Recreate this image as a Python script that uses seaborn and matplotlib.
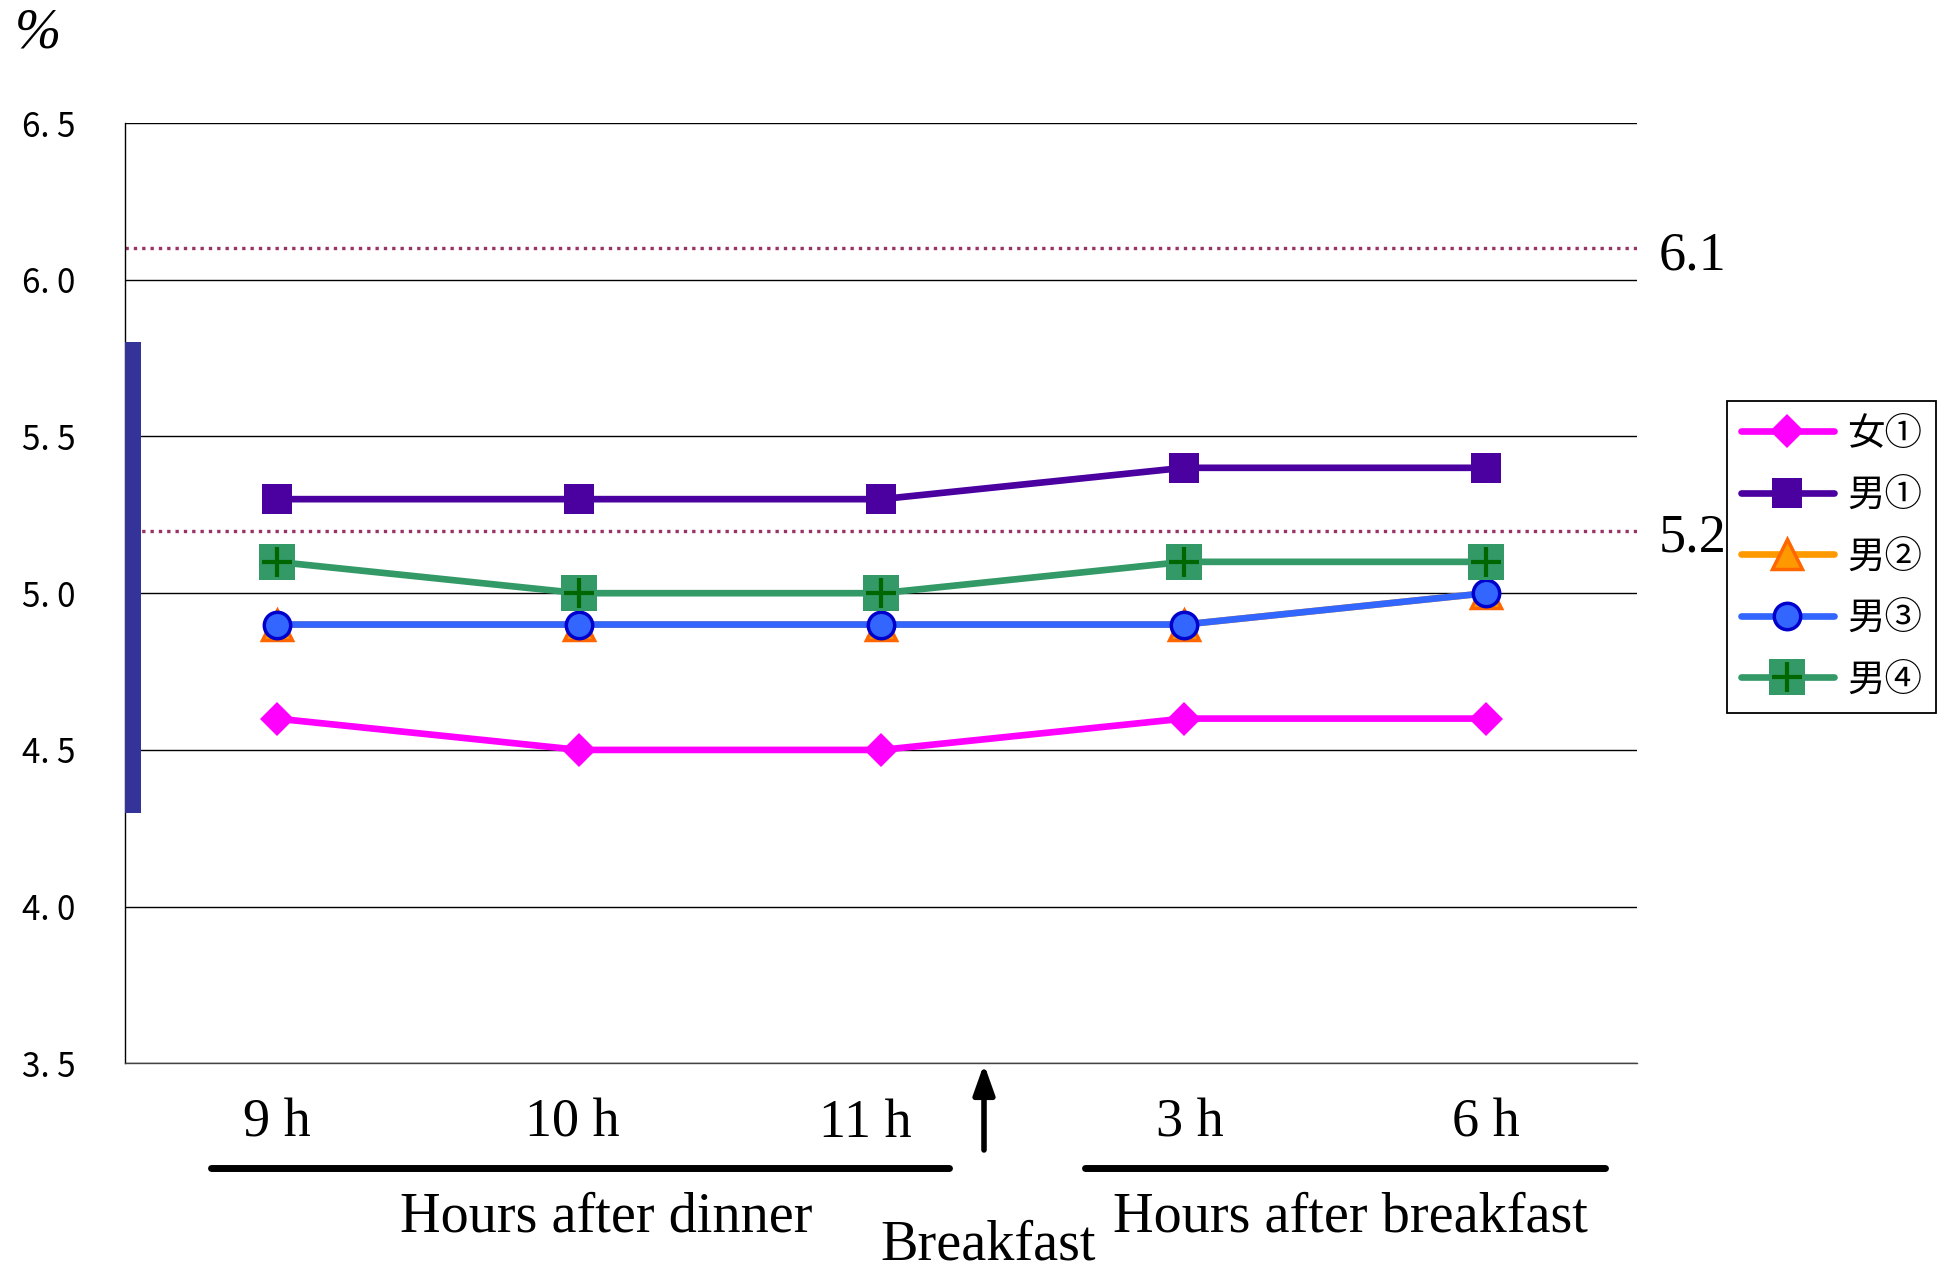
import numpy as np
import matplotlib
matplotlib.use("Agg")
import matplotlib.pyplot as plt
import matplotlib.transforms as mtransforms
from matplotlib.lines import Line2D
from matplotlib.patches import Rectangle
from matplotlib.legend_handler import HandlerTuple
import seaborn as sns

# Sampling times and HbA1c-type readings (%)
time_labels = ["9 h", "10 h", "11 h", "3 h", "6 h"]
series_names = ["女①", "男①", "男②", "男③", "男④"]
f1_values = [4.6, 4.5, 4.5, 4.6, 4.6]
m1_values = [5.3, 5.3, 5.3, 5.4, 5.4]
m2_values = [4.9, 4.9, 4.9, 4.9, 5.0]
m3_values = [4.9, 4.9, 4.9, 4.9, 5.0]
m4_values = [5.1, 5.0, 5.0, 5.1, 5.1]
reference_levels = [6.1, 5.2]
normal_range = [4.3, 5.8]
y_ticks = [3.5, 4.0, 4.5, 5.0, 5.5, 6.0, 6.5]

values = {
    "女①": f1_values,
    "男①": m1_values,
    "男②": m2_values,
    "男③": m3_values,
    "男④": m4_values,
}

styles = {
    "女①": dict(color="#FF00FF", marker="D", markersize=17,
               markerfacecolor="#FF00FF", markeredgecolor="#FF00FF", markeredgewidth=0),
    "男①": dict(color="#4B00A0", marker="s", markersize=22,
               markerfacecolor="#4B00A0", markeredgecolor="#4B00A0", markeredgewidth=0),
    "男②": dict(color="#FF9900", marker="^", markersize=21,
               markerfacecolor="#FF9900", markeredgecolor="#FF6600", markeredgewidth=2.5),
    "男③": dict(color="#3366FF", marker="o", markersize=19,
               markerfacecolor="#3366FF", markeredgecolor="#0000CC", markeredgewidth=2.5),
    "男④": dict(color="#339966", marker="s", markersize=26,
               markerfacecolor="#339966", markeredgecolor="#339966", markeredgewidth=0),
}

# Small horizontal nudges (pixels) for the time labels
label_nudge_px = [0, -7, -16, 6, 0]

sns.set_theme(style="white")
plt.rcParams["font.family"] = ["Liberation Serif", "Noto Sans CJK JP", "DejaVu Sans"]
plt.rcParams["text.color"] = "black"
plt.rcParams["xtick.color"] = "black"
plt.rcParams["ytick.color"] = "black"

fig = plt.figure(figsize=(19.48, 12.72), dpi=100)
ax = fig.add_axes([0.0644, 0.1640, 0.7761, 0.7393])

x = np.arange(len(time_labels))

# Reference levels (dotted)
for lvl in reference_levels:
    ax.axhline(lvl, color="#993366", lw=2.4, ls=(0, (1, 1.5)), zorder=2)
    lab_tr = mtransforms.offset_copy(
        mtransforms.blended_transform_factory(ax.transAxes, ax.transData),
        fig=fig, x=21, y=-8, units="dots")
    ax.text(1.0, lvl, f"{lvl:.1f}", transform=lab_tr, ha="left", va="center",
            fontsize=39, color="black", clip_on=False)

# Series lines
handles = []
for name in series_names:
    sns.lineplot(x=x, y=values[name], ax=ax, lw=4.8, zorder=3, **styles[name])
    line = ax.lines[-1]
    if name == "男④":
        sns.lineplot(x=x, y=values[name], ax=ax, color="#006600", marker="+",
                     linestyle="", markersize=21, markeredgewidth=3,
                     markeredgecolor="#006600", zorder=4)
        handles.append((line, ax.lines[-1]))
    else:
        handles.append(line)

# Normal range bar along the y axis
bar_tr = mtransforms.blended_transform_factory(ax.transAxes, ax.transData)
ax.add_patch(Rectangle((0, normal_range[0]), 0.0106, normal_range[1] - normal_range[0],
                       transform=bar_tr, facecolor="#333399", edgecolor="none",
                       zorder=5, clip_on=False))

# Axes
ax.set_xlim(-0.5, len(time_labels) - 0.5)
ax.set_ylim(y_ticks[0], y_ticks[-1])
ax.set_xticks(x, labels=time_labels)
ax.set_xticks(np.arange(-0.5, len(time_labels)), minor=True)
ax.tick_params(axis="x", which="major", length=0, pad=25, labelsize=39,
               labelcolor="black")
ax.tick_params(axis="x", which="minor", direction="in", length=9, width=1.0,
               color="#555555")
for lbl, dx in zip(ax.get_xticklabels(), label_nudge_px):
    lbl.set_transform(lbl.get_transform()
                      + mtransforms.ScaledTranslation(dx / 100, 0, fig.dpi_scale_trans))
ax.set_yticks(y_ticks, labels=[f"{v:.1f}".replace(".", ". ") for v in y_ticks],
              fontfamily=["Noto Sans CJK JP"], fontsize=24, color="black")
ax.tick_params(axis="y", which="major", direction="in", length=10, width=1.0,
               color="black", pad=36, labelcolor="black")
ax.grid(axis="y", color="black", lw=1.0)
ax.grid(axis="x", visible=False)
ax.set_axisbelow(True)
ax.set_xlabel("")
ax.set_ylabel("")
for side in ["top", "right"]:
    ax.spines[side].set_visible(False)
ax.spines["left"].set_color("black")
ax.spines["left"].set_linewidth(1.0)
ax.spines["bottom"].set_color("#444444")
ax.spines["bottom"].set_linewidth(1.0)

# Legend
leg = ax.legend(handles, series_names, handler_map={tuple: HandlerTuple(ndivide=1)},
                loc="upper left", bbox_to_anchor=(1727 / 1948, 1 - 401 / 1272),
                bbox_transform=fig.transFigure, borderaxespad=0, frameon=True,
                fancybox=False, edgecolor="black", framealpha=1, handlelength=2.5,
                handletextpad=0.35, labelspacing=0.6, borderpad=0.36,
                prop={"family": ["Noto Sans CJK JP"], "size": 27})
leg.get_frame().set_linewidth(1.3)
for t in leg.get_texts():
    t.set_color("black")

# Unit label
fig.text(15 / 1948, 1 - 8 / 1272, "%", ha="left", va="top", fontsize=40,
         style="italic", family=["Liberation Serif"])

# Period brackets and breakfast marker below the axis
fig.add_artist(Line2D([211 / 1948, 949 / 1948], [1 - 1168 / 1272] * 2,
                      transform=fig.transFigure, color="black", lw=5))
fig.add_artist(Line2D([1084.5 / 1948, 1605 / 1948], [1 - 1168 / 1272] * 2,
                      transform=fig.transFigure, color="black", lw=5))
ax.annotate("", xy=(984 / 1948, 1 - 1064 / 1272), xytext=(984 / 1948, 1 - 1150 / 1272),
            xycoords="figure fraction", textcoords="figure fraction",
            arrowprops=dict(arrowstyle="-|>,head_length=0.45,head_width=0.16",
                            color="black", lw=4, mutation_scale=40,
                            shrinkA=0, shrinkB=0))
fig.text(606 / 1948, 1 - 1232 / 1272, "Hours after dinner", ha="center",
         va="baseline", fontsize=40.5)
fig.text(1350 / 1948, 1 - 1232 / 1272, "Hours after breakfast", ha="center",
         va="baseline", fontsize=40.5)
fig.text(988 / 1948, 1 - 1259 / 1272, "Breakfast", ha="center",
         va="baseline", fontsize=40.5)

fig.savefig("out.png", dpi=100)
